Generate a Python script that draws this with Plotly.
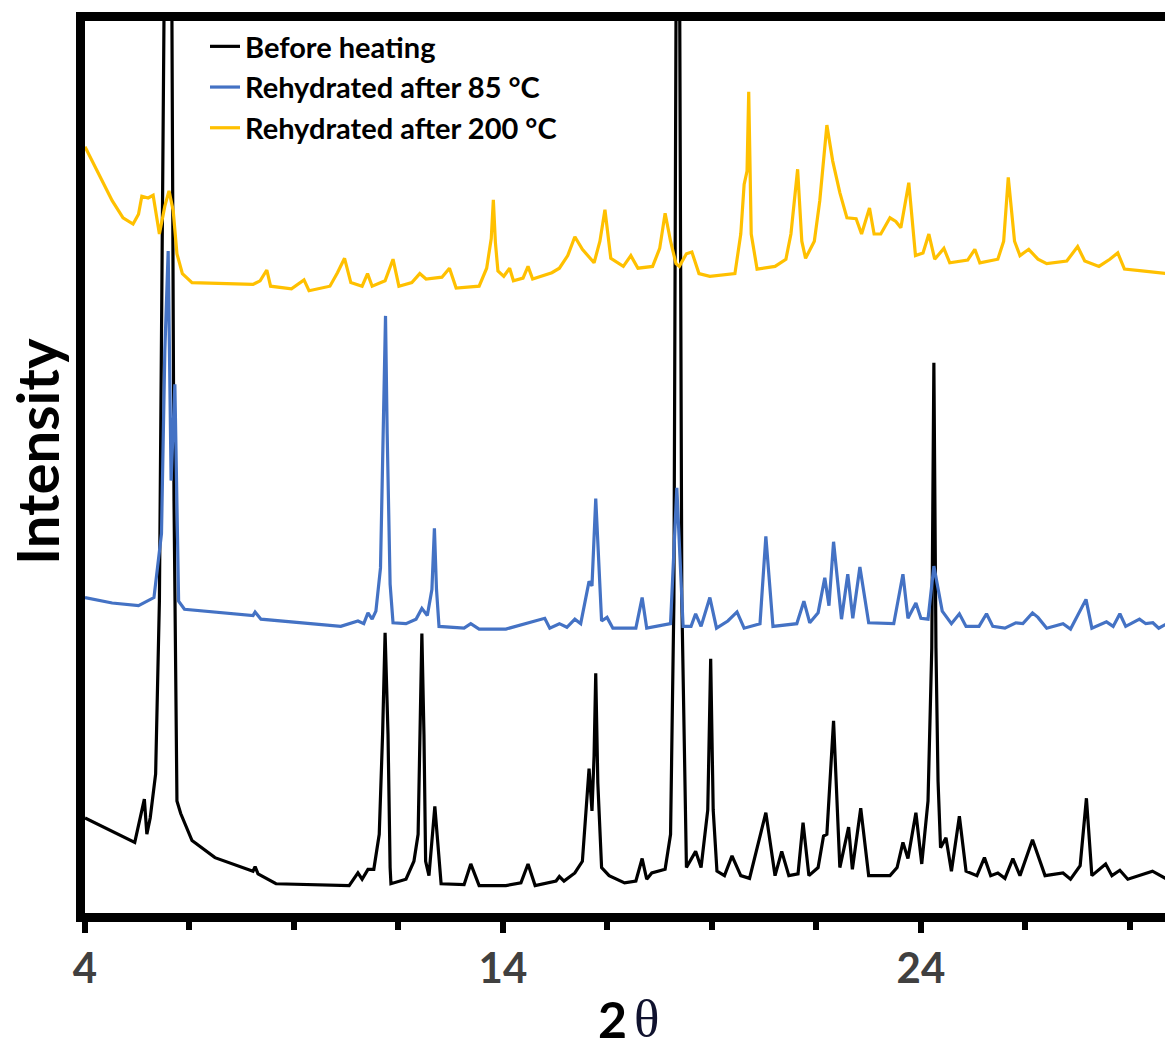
import plotly.graph_objects as go

# ---- data (2θ in degrees, intensity in arbitrary units, curves offset vertically) ----
before_x = [4.00, 5.19, 5.42, 5.48, 5.56, 5.69, 5.78, 5.89, 5.99, 6.08, 6.13, 6.20, 6.29, 6.56, 7.11,
            8.02, 8.07, 8.14, 8.57, 10.32, 10.53, 10.63, 10.77, 10.91, 11.04, 11.12, 11.18, 11.25,
            11.30, 11.32, 11.68, 11.87, 11.97, 12.01, 12.06, 12.11, 12.15, 12.23, 12.37, 12.52,
            13.07, 13.23, 13.43, 14.07, 14.43, 14.60, 14.77,
            15.27, 15.35, 15.46, 15.72, 15.90, 16.06, 16.13, 16.18, 16.22, 16.27, 16.36, 16.54,
            16.91, 17.18, 17.33, 17.44, 17.56, 17.88, 18.01, 18.09, 18.14, 18.19, 18.23, 18.28,
            18.39, 18.61, 18.74, 18.90, 18.97, 19.03, 19.12, 19.30, 19.48, 19.69, 19.90, 20.29,
            20.51, 20.67, 20.84, 21.06, 21.18, 21.32, 21.54, 21.67, 21.75, 21.91, 22.06, 22.27,
            22.36, 22.56, 22.75, 23.26, 23.43, 23.57, 23.69, 23.88, 24.02, 24.17, 24.26, 24.31,
            24.36, 24.41, 24.47, 24.60, 24.73, 24.92, 25.08, 25.34, 25.52, 25.67, 25.84, 26.01,
            26.20, 26.37, 26.67, 26.84, 26.97, 27.40, 27.58, 27.81, 27.96, 28.09, 28.42, 28.57,
            28.76, 28.95, 29.22, 29.54, 29.89]
before_y = [11.1, 8.4, 13.2, 9.3, 11.1, 16.0, 35.2, 100.0, 125.0, 100.0, 46.3, 13.0, 11.6, 8.6, 6.7,
            5.2, 5.7, 4.9, 3.8, 3.6, 5.0, 4.3, 5.4, 5.4, 9.3, 20.4, 31.7, 20.4,
            5.6, 3.8, 4.3, 6.3, 9.3, 20.4, 31.6, 20.4, 6.3, 4.7, 12.4, 3.8,
            3.7, 6.0, 3.6, 3.6, 3.9, 6.0, 3.6,
            4.1, 4.6, 4.1, 5.0, 6.3, 16.6, 11.9, 18.0, 27.2, 15.0, 5.6, 4.7,
            3.9, 4.1, 6.6, 4.3, 5.0, 5.4, 9.3, 35.2, 100.0, 125.0, 100.0, 35.2,
            5.6, 7.4, 5.6, 12.0, 28.8, 12.0, 5.2, 4.7, 6.9, 4.7, 4.4, 11.7,
            4.7, 7.4, 4.7, 4.9, 10.6, 4.7, 5.6, 9.1, 9.3, 21.9, 5.6, 10.1,
            5.4, 12.2, 4.7, 4.7, 5.6, 8.4, 6.6, 11.7, 6.0, 13.0, 30.0, 61.7,
            30.0, 15.2, 7.8, 8.9, 5.2, 11.3, 5.2, 4.7, 6.7, 4.7, 5.0, 4.4,
            6.6, 4.7, 8.7, 6.3, 4.7, 5.0, 4.3, 5.8, 13.3, 4.7, 6.0, 4.7,
            5.3, 4.3, 4.7, 5.2, 4.3]

rehyd85_x = [4.00, 4.65, 5.28, 5.65, 5.83, 5.91, 5.99, 6.06, 6.15, 6.24, 6.38, 8.02, 8.07, 8.21,
             10.12, 10.53, 10.67, 10.77, 10.87, 10.96, 11.07, 11.14, 11.19, 11.23, 11.30, 11.37,
             11.68, 11.92, 12.06, 12.19, 12.30, 12.36, 12.41, 12.47, 13.07, 13.23, 13.43, 14.07,
             15.00, 15.12, 15.35, 15.53, 15.72, 15.86,
             16.06, 16.13, 16.22, 16.36, 16.49, 16.63, 17.18, 17.33, 17.44, 18.01, 18.16, 18.31,
             18.50, 18.61, 18.74, 18.95, 19.11, 19.38, 19.60, 19.77, 20.15, 20.29, 20.46, 21.03,
             21.20, 21.34, 21.54, 21.70, 21.80, 21.91, 22.10, 22.25, 22.37, 22.54, 22.75, 23.35,
             23.57, 23.69, 23.88, 24.00, 24.17, 24.31, 24.51, 24.73, 24.92, 25.08, 25.39, 25.57,
             25.72, 26.01, 26.27, 26.44, 26.67, 26.80, 27.01, 27.40, 27.58, 27.95, 28.09, 28.44,
             28.60, 28.76, 28.90, 29.23, 29.38, 29.55, 29.69, 29.89]
rehyd85_y = [35.6, 35.0, 34.7, 35.6, 42.7, 63.0, 74.1, 48.6, 59.3, 35.2, 34.3, 33.6, 34.0, 33.2,
             32.4, 33.0, 32.7, 33.9, 33.2, 34.1, 38.9, 53.8, 66.9, 53.8, 37.1, 32.8,
             32.7, 33.2, 34.4, 33.6, 36.5, 43.3, 36.5, 32.4, 32.2, 32.7, 32.1, 32.1,
             33.3, 32.2, 32.7, 32.3, 33.2, 32.7,
             37.4, 36.9, 46.6, 33.0, 33.4, 32.2, 32.2, 35.6, 32.2, 32.7, 47.8, 32.4,
             32.4, 33.8, 32.4, 35.6, 32.2, 33.0, 34.0, 32.2, 32.7, 42.4, 32.4, 32.7,
             35.2, 32.8, 33.9, 37.8, 34.7, 41.8, 33.2, 38.2, 33.3, 39.0, 32.8, 32.7,
             38.2, 33.3, 35.0, 33.3, 33.2, 39.1, 34.1, 32.7, 33.8, 32.4, 32.4, 33.8,
             32.4, 32.2, 32.8, 32.7, 33.9, 33.4, 32.2, 32.7, 32.1, 35.4, 32.2, 32.9,
             32.4, 33.8, 32.4, 33.2, 32.7, 32.8, 32.2, 32.7]

rehyd200_x = [4.00, 4.14, 4.36, 4.65, 4.91, 5.15, 5.28, 5.36, 5.51, 5.63, 5.78, 5.91, 6.01, 6.11,
              6.20, 6.33, 6.56, 8.02, 8.19, 8.35, 8.44, 8.94, 9.24, 9.36, 9.86, 10.04, 10.21,
              10.36, 10.63, 10.76, 10.87, 11.18, 11.37, 11.51, 11.82, 12.01, 12.16, 12.54, 12.72,
              12.88, 13.43, 13.61, 13.72, 13.77, 13.82, 13.88, 14.02, 14.16, 14.25, 14.48, 14.60,
              14.71, 15.17, 15.35, 15.55, 15.72, 15.90, 16.18, 16.32, 16.44, 16.58, 16.88, 17.06,
              17.23, 17.58, 17.75, 17.88, 18.01, 18.14, 18.22, 18.39, 18.52, 18.69, 18.95, 19.55,
              19.69, 19.77, 19.84, 19.88, 19.91, 19.94, 20.08, 20.51, 20.77, 20.89, 21.05, 21.15,
              21.24, 21.45, 21.58, 21.75, 21.89, 22.06, 22.23, 22.45, 22.58, 22.77, 22.88, 23.04,
              23.26, 23.40, 23.52, 23.71, 23.87, 24.05, 24.19, 24.33, 24.55, 24.69, 25.12, 25.29,
              25.41, 25.84, 25.98, 26.09, 26.24, 26.37, 26.58, 26.80, 27.01, 27.49, 27.75, 27.92,
              28.26, 28.52, 28.71, 28.87, 29.29, 29.89]
rehyd200_y = [85.7, 84.4, 82.2, 79.7, 77.8, 77.1, 78.2, 80.2, 80.0, 80.3, 76.0, 79.1, 80.8, 78.6,
              73.8, 71.6, 70.6, 70.4, 70.8, 72.0, 70.2, 69.9, 70.9, 69.7, 70.2, 71.7, 73.3,
              70.6, 70.2, 71.6, 70.2, 70.8, 73.2, 70.2, 70.6, 71.6, 71.0, 71.2, 72.2,
              70.0, 70.2, 72.2, 75.5, 79.8, 75.0, 71.9, 71.3, 72.2, 70.8, 71.1, 72.4,
              71.0, 71.7, 72.2, 73.6, 75.7, 74.3, 72.8, 75.2, 78.7, 73.3, 72.4, 73.6,
              72.2, 72.4, 74.4, 78.3, 75.2, 72.7, 72.4, 73.8, 74.0, 71.6, 71.3, 71.6,
              76.0, 81.5, 83.0, 91.8, 83.0, 76.0, 72.1, 72.4, 73.2, 76.0, 83.2, 75.2,
              73.3, 75.2, 79.7, 88.1, 84.1, 80.6, 77.8, 77.7, 76.0, 78.9, 76.0, 76.0,
              77.8, 77.4, 76.7, 81.7, 73.6, 73.9, 76.0, 73.2, 74.4, 72.8, 73.1, 74.3,
              72.8, 73.2, 75.2, 82.3, 75.2, 73.6, 74.3, 73.2, 72.7, 73.0, 74.6, 73.0,
              72.4, 73.2, 73.9, 72.1, 71.9, 71.6]

series_names = ["Before heating", "Rehydrated after 85 °C", "Rehydrated after 200 °C"]
series_colors = ["#000000", "#4472C4", "#FFC000"]
major_ticks = [4, 14, 24]
tick_labels = ["4", "14", "24"]

# ---- figure ----
W, H = 1165, 1049
L, R, T, B = 85, 0, 21, 136
pw, ph = W - L - R, H - T - B

fig = go.Figure()
for xs, ys, name, col in zip([before_x, rehyd85_x, rehyd200_x],
                             [before_y, rehyd85_y, rehyd200_y],
                             series_names, series_colors):
    fig.add_trace(go.Scatter(x=xs, y=ys, mode="lines", name=name,
                             line=dict(color=col, width=3.2)))

def px_x(p):
    return (p - L) / pw

def px_y(p):
    return (H - B - p) / ph

fig.update_layout(
    width=W, height=H,
    margin=dict(l=L, r=R, t=T, b=B, pad=0),
    paper_bgcolor="white", plot_bgcolor="white",
    showlegend=True,
    legend=dict(x=px_x(205), y=px_y(21), xanchor="left", yanchor="top",
                bgcolor="rgba(0,0,0,0)",
                font=dict(family="Lato", size=29, color="#000000", weight="bold")),
    xaxis=dict(range=[4.0, 29.84], showgrid=False, zeroline=False,
               showline=True, linecolor="black", linewidth=9, mirror=True,
               tickmode="array", tickvals=major_ticks, ticktext=tick_labels,
               ticks="outside", ticklen=11, tickwidth=6, tickcolor="black",
               ticklabelstandoff=0,
               tickfont=dict(family="Lato", size=42, color="#404040", weight="bold"),
               minor=dict(tick0=4, dtick=2.5, ticks="outside", ticklen=8,
                          tickwidth=6, tickcolor="black")),
    yaxis=dict(range=[0.55, 99.67], showgrid=False, zeroline=False,
               showline=True, linecolor="black", linewidth=9, mirror=False,
               showticklabels=False, ticks=""),
)

# axis titles
fig.add_annotation(text="Intensity", xref="paper", yref="paper",
                   x=px_x(36), y=px_y(452), textangle=-90, showarrow=False,
                   xanchor="center", yanchor="middle",
                   font=dict(family="Lato", size=58, color="#000000", weight="bold"))
fig.add_annotation(text="2", xref="paper", yref="paper",
                   x=px_x(612), y=px_y(1019), showarrow=False,
                   xanchor="center", yanchor="middle",
                   font=dict(family="Lato", size=50, color="#000000", weight="bold"))
fig.add_annotation(text="θ", xref="paper", yref="paper",
                   x=px_x(646), y=px_y(1018), showarrow=False,
                   xanchor="center", yanchor="middle",
                   font=dict(family="Liberation Serif", size=53, color="#10122e"))

fig.write_html("out.html")
